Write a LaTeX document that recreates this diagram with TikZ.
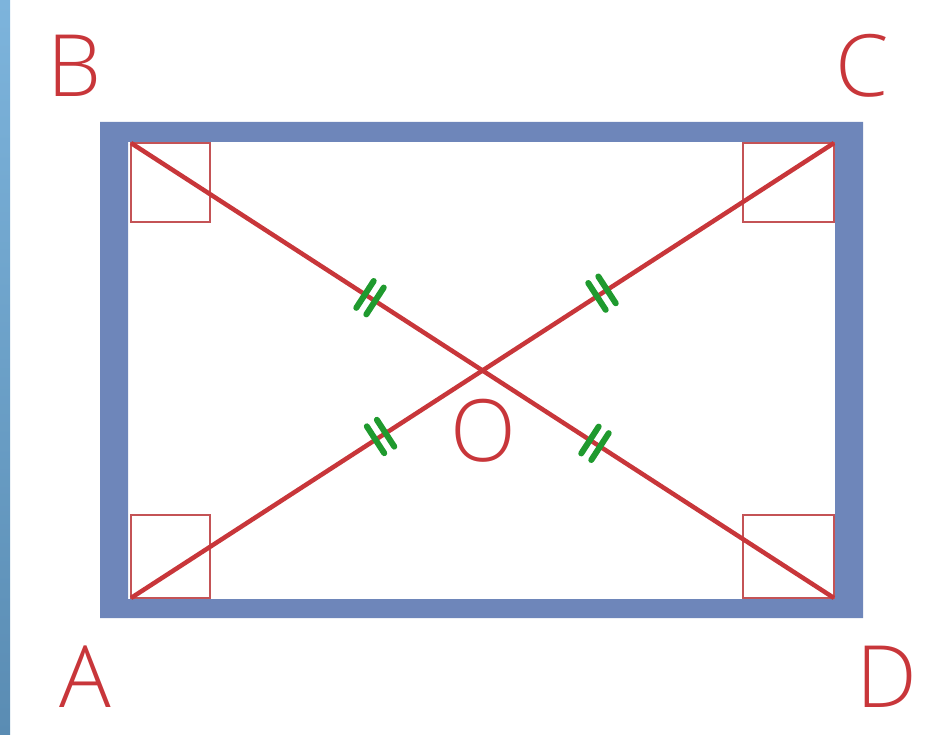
\documentclass[tikz,border=0pt]{standalone}
\usepackage{fontspec}
\setmainfont{Open Sans Light}
\usepackage{tikz}
\usetikzlibrary{calc}
\definecolor{FrameBlue}{HTML}{6E86BA}
\definecolor{StripTop}{HTML}{7DB4DC}
\definecolor{StripBottom}{HTML}{5A8CB3}
\definecolor{DiagRed}{HTML}{C8363A}
\definecolor{AngleRed}{HTML}{C45356}
\definecolor{TickGreen}{HTML}{1F9A2E}

\begin{document}
\begin{tikzpicture}[
  x=1pt, y=-1pt,
  diag/.style={draw=DiagRed, line width=4.5pt},
  rightang/.style={draw=AngleRed, line width=2pt},
  tickmark/.style={draw=TickGreen, line width=6pt, line cap=round},
  vlabel/.style={text=DiagRed, inner sep=0pt, font=\fontsize{86}{86}\selectfont}
]
\useasboundingbox (0,0) rectangle (944,735);
\shade[top color=StripTop, bottom color=StripBottom] (0,0) rectangle (10,735);
% frame
\fill[FrameBlue, even odd rule] (100,122) rectangle (863,618) (128,142) rectangle (835,599);
% corners
\coordinate (A) at (131,598);
\coordinate (B) at (131,143);
\coordinate (C) at (834,143);
\coordinate (D) at (834,598);
% right angles
\draw[rightang] (B) rectangle ++(79,79);
\draw[rightang] (C) rectangle ++(-91,79);
\draw[rightang] (A) rectangle ++(79,-83);
\draw[rightang] (D) rectangle ++(-91,-83);
% diagonals
\draw[diag] (B) -- (D);
\draw[diag] (A) -- (C);
\coordinate (O) at ($(A)!0.5!(C)$);
% equal marks
\foreach \p/\q/\t/\r in {B/D/0.34/-33, D/B/0.34/-33, A/C/0.355/33, C/A/0.33/33} {
  \begin{scope}[shift={($(\p)!\t!(\q)$)}, rotate=\r]
    \draw[tickmark] (-6,-16) -- (-6,16);
    \draw[tickmark] (6,-16) -- (6,16);
  \end{scope}
}
% labels
\node[vlabel] (labB) at (74,66) {B};
\node[vlabel] (labC) at (862,66) {C};
\node[vlabel] (labA) at (85,677) {A};
\node[vlabel] (labD) at (887,677) {D};
\node[vlabel] (labO) at (483,431) {O};
\end{tikzpicture}
\end{document}
